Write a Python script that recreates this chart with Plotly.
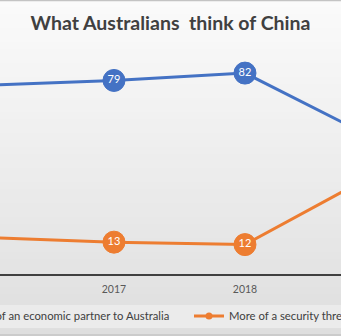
import plotly.graph_objects as go

# ---- data ----
years = ["2015", "2017", "2018", "2020"]
partner = [77, 79, 82, 55]
threat = [15, 13, 12, 41]
series_names = ["More of an economic partner to Australia", "More of a security threat"]
title_text = "What Australians\u00a0 think of China"

colors = ["#4472C4", "#ED7D31"]
W, H = 341, 336
T, B = 29, 62  # margins
plot_h = H - T - B


def py(p):
    """pixel row -> paper y"""
    return (H - B - p) / plot_h


fig = go.Figure()
for name, vals, col in zip(series_names, [partner, threat], colors):
    fig.add_trace(go.Scatter(
        x=years, y=vals, name=name, showlegend=False,
        mode="lines+markers+text",
        text=[str(v) for v in vals],
        textposition="middle center",
        textfont=dict(family="Lato", size=11, color="white"),
        line=dict(color=col, width=3),
        marker=dict(size=22, color=col, line=dict(color=col, width=1)),
    ))
# legend entries (small symbols as in the reference)
for i, (name, col) in enumerate(zip(series_names, colors)):
    fig.add_trace(go.Scatter(
        x=[None], y=[None], name=name, mode="lines+markers",
        line=dict(color=col, width=3), marker=dict(size=7, color=col),
        legend="legend" if i == 0 else "legend2",
    ))

# background gradient bands (styling)
shapes = []
n = 48
top_c = (251, 251, 251)
bot_c = (222, 222, 222)
for i in range(n):
    p0 = H * i / n
    p1 = H * (i + 1) / n
    t = (i + 0.5) / n
    c = tuple(int(round(top_c[k] + (bot_c[k] - top_c[k]) * t)) for k in range(3))
    shapes.append(dict(type="rect", xref="paper", yref="paper", layer="below",
                       x0=-0.01, x1=1.01, y0=py(p1), y1=py(p0),
                       fillcolor="rgb(%d,%d,%d)" % c, line=dict(width=0)))
# legend band
shapes.append(dict(type="rect", xref="paper", yref="paper", layer="below",
                   x0=-0.01, x1=1.01, y0=py(328), y1=py(305),
                   fillcolor="#ebebeb", line=dict(width=0)))
# borders
shapes.append(dict(type="line", xref="paper", yref="paper", x0=0, x1=1,
                   y0=py(0.5), y1=py(0.5), line=dict(color="#c4c4c4", width=1.5)))
shapes.append(dict(type="line", xref="paper", yref="paper", x0=0, x1=1,
                   y0=py(335), y1=py(335), line=dict(color="#c4c4c4", width=1.5)))

leg_font = dict(family="Lato", size=11.3, color="#404040")
fig.update_layout(
    width=W, height=H,
    margin=dict(l=0, r=0, t=T, b=B, autoexpand=False),
    paper_bgcolor="#ebebeb", plot_bgcolor="rgba(0,0,0,0)",
    title=dict(text=title_text, x=0.5, xanchor="center", xref="container",
               y=1 - 23 / H, yanchor="middle", yref="container",
               font=dict(family="Lato", size=19.5, color="#404040", weight="bold")),
    xaxis=dict(type="category", range=[0.13, 2.733], showgrid=False,
               showline=True, linecolor="#404040", linewidth=2,
               ticks="", ticklabelstandoff=4,
               tickfont=dict(family="Lato", size=10.5, color="#595959"),
               zeroline=False),
    yaxis=dict(range=[0, 100], visible=False),
    showlegend=True,
    legend=dict(orientation="h", x=-74 / W, xanchor="left", y=py(316),
                yanchor="middle", bgcolor="rgba(0,0,0,0)", font=leg_font),
    legend2=dict(orientation="h", x=189 / W, xanchor="left", y=py(316),
                 yanchor="middle", bgcolor="rgba(0,0,0,0)", font=leg_font),
    shapes=shapes,
)
fig.write_html("out.html")
